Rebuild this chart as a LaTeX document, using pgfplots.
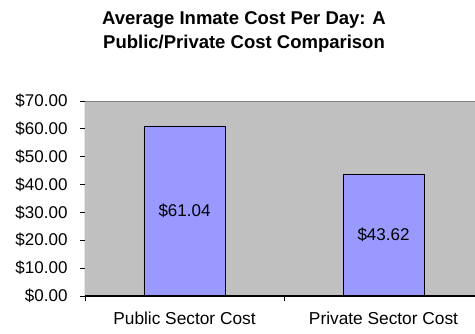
\documentclass[border=0pt]{standalone}
\usepackage{fontspec}
\setmainfont{Liberation Sans}
\usepackage{pgfplots}
\pgfplotsset{compat=1.18}
\definecolor{plotbg}{RGB}{192,192,192}
\definecolor{barfill}{RGB}{153,153,255}
\begin{document}
\begin{tikzpicture}
\useasboundingbox (0,0) rectangle (475pt,333pt);
\node[align=center, font=\fontsize{18.5}{24}\selectfont\bfseries] at (244pt,301pt) {Average Inmate Cost Per Day: A\\Public/Private Cost Comparison};
\begin{axis}[
  at={(85pt,37pt)}, anchor=south west,
  scale only axis, width=398pt, height=195pt,
  xmin=0, xmax=2, ymin=0, ymax=70,
  axis background/.style={fill=plotbg},
  axis line style={draw=none},
  ybar, bar width=81pt,
  ytick={0,10,...,70},
  yticklabels={\$0.00,\$10.00,\$20.00,\$30.00,\$40.00,\$50.00,\$60.00,\$70.00},
  xtick={0,1,2}, xticklabels={,,},
  extra x ticks={0.5,1.5},
  extra x tick labels={Public Sector Cost,Private Sector Cost},
  extra x tick style={major tick length=0pt},
  tick align=outside, major tick length=5pt,
  tick style={black, line width=0.8pt},
  ytick pos=left, xtick pos=bottom,
  yticklabel style={font=\fontsize{17}{17}\selectfont, xshift=-9pt},
  xticklabel style={font=\fontsize{17.3}{17}\selectfont, yshift=-12pt},
  nodes near coords, point meta=explicit symbolic,
  visualization depends on={y \as \rawy},
  every node near coord/.append style={anchor=center, yshift={-\rawy*1.393pt}, font=\fontsize{17}{17}\selectfont, black},
]
\addplot[fill=barfill, draw=black, line width=0.8pt] coordinates {(0.5,61.04) [\$61.04] (1.5,43.62) [\$43.62]};
\draw[gray, line width=0.8pt] (rel axis cs:0,1) -- (rel axis cs:1,1);
\draw[black!80, line width=1pt] (rel axis cs:0,0) -- (rel axis cs:0,1);
\draw[black, line width=1.2pt] (rel axis cs:0,0) -- (rel axis cs:1,0);
\end{axis}
\end{tikzpicture}
\end{document}
